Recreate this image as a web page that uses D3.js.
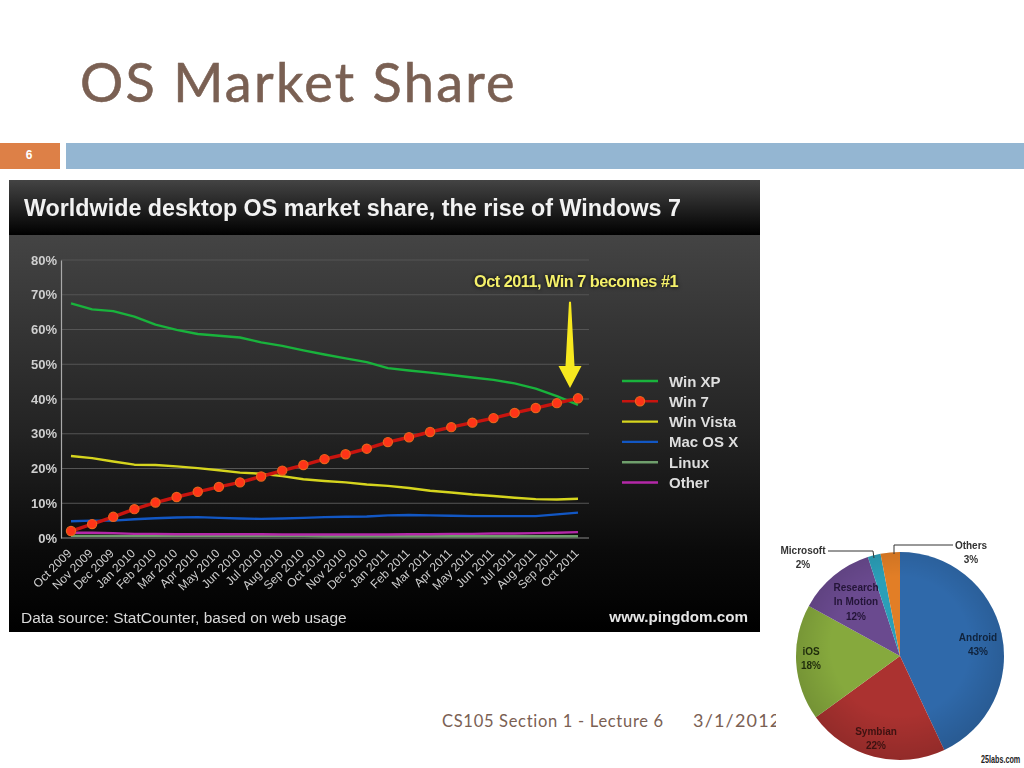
<!DOCTYPE html>
<html>
<head>
<meta charset="utf-8">
<script src="https://d3js.org/d3.v7.min.js"></script>
<style>
    html, body { margin: 0; padding: 0; background: #fff; }
    svg { display: block; }
    .hdr { font-family: "Liberation Sans", sans-serif; font-weight: bold; }
    .sans { font-family: "Liberation Sans", sans-serif; }
</style>
</head>
<body>
<div id="chart"></div>
<script>
    const months = ["Oct 2009","Nov 2009","Dec 2009","Jan 2010","Feb 2010","Mar 2010","Apr 2010","May 2010","Jun 2010","Jul 2010","Aug 2010","Sep 2010","Oct 2010","Nov 2010","Dec 2010","Jan 2011","Feb 2011","Mar 2011","Apr 2011","May 2011","Jun 2011","Jul 2011","Aug 2011","Sep 2011","Oct 2011"];
    const winXP = [67.5,65.8,65.3,63.7,61.4,59.9,58.7,58.2,57.7,56.3,55.3,54.0,52.8,51.7,50.6,48.9,48.2,47.6,46.9,46.2,45.5,44.5,43.0,40.8,38.3];
    const win7 = [2.0,4.0,6.1,8.3,10.2,11.8,13.3,14.7,16.0,17.7,19.4,21.0,22.7,24.1,25.7,27.6,29.0,30.5,31.9,33.2,34.5,36.0,37.4,38.8,40.2];
    const winVista = [23.6,23.0,22.0,21.1,21.0,20.6,20.1,19.5,18.8,18.5,17.8,16.9,16.4,16.0,15.4,15.0,14.4,13.6,13.1,12.5,12.1,11.6,11.2,11.1,11.3];
    const macOSX = [4.8,5.0,5.0,5.4,5.7,5.9,6.0,5.8,5.6,5.5,5.6,5.8,6.0,6.1,6.2,6.5,6.6,6.5,6.4,6.3,6.3,6.3,6.3,6.8,7.3];
    const linux = [0.6,0.6,0.6,0.6,0.6,0.6,0.6,0.6,0.6,0.6,0.6,0.6,0.5,0.5,0.5,0.5,0.5,0.5,0.5,0.5,0.5,0.5,0.5,0.5,0.5];
    const other = [1.5,1.5,1.4,1.2,1.2,1.1,1.1,1.1,1.1,1.1,1.0,1.0,1.0,1.0,1.0,1.0,1.1,1.1,1.2,1.2,1.3,1.3,1.4,1.5,1.7];
    const yTicks = [0,10,20,30,40,50,60,70,80];

    const seriesNames = ["Win XP","Win 7","Win Vista","Mac OS X","Linux","Other"];
    const seriesValues = [winXP, win7, winVista, macOSX, linux, other];
    const seriesColors = ["#19b33c","#c8140f","#d6d51e","#1257c4","#6f9f6c","#b428a8"];
    const drawOrder = [4,5,3,2,0,1];

    const pieNames = ["Android","Symbian","iOS","Research In Motion","Microsoft","Others"];
    const pieValues = [43,22,18,12,2,3];
    const pieColors = ["#2f69aa","#ab3230","#86a93d","#6a4a8f","#2b9fb8","#e27e26"];

    const svg = d3.select("#chart").append("svg").attr("width", 1024).attr("height", 768);
    const defs = svg.append("defs");

    function vgrad(id, stops) {
        const g = defs.append("linearGradient").attr("id", id).attr("x1", 0).attr("x2", 0).attr("y1", 0).attr("y2", 1);
        stops.forEach(function(s) {
            g.append("stop").attr("offset", s[0]).attr("stop-color", s[1]);
        });
    }
    vgrad("headGrad", [["0%", "#444"], ["100%", "#000"]]);
    vgrad("bodyGrad", [["0%", "#444"], ["50%", "#232323"], ["80%", "#0a0a0a"], ["100%", "#000"]]);
    defs.append("filter").attr("id", "soft").attr("color-interpolation-filters", "sRGB")
        .append("feGaussianBlur").attr("stdDeviation", 0.55);
    const glow = defs.append("filter").attr("id", "dark").attr("color-interpolation-filters", "sRGB")
        .attr("x", "-10%").attr("y", "-40%").attr("width", "120%").attr("height", "180%");
    glow.append("feDropShadow").attr("dx", 0).attr("dy", 0).attr("stdDeviation", 2).attr("flood-color", "#000");
    const shade = defs.append("radialGradient").attr("id", "pieShade").attr("gradientUnits", "userSpaceOnUse")
        .attr("cx", 0).attr("cy", -10).attr("r", 115);
    shade.append("stop").attr("offset", "60%").attr("stop-color", "#000").attr("stop-opacity", 0);
    shade.append("stop").attr("offset", "100%").attr("stop-color", "#000").attr("stop-opacity", 0.15);

    // slide furniture
    svg.append("text").attr("x", 80).attr("y", 102)
        .attr("font-family", "Lato, sans-serif").attr("font-size", 54).attr("letter-spacing", 2.3)
        .attr("stroke", "#7a6053").attr("stroke-width", 0.6)
        .attr("fill", "#7a6053").text("OS Market Share");
    svg.append("rect").attr("x", 0).attr("y", 143).attr("width", 60).attr("height", 26).attr("fill", "#dd8047");
    svg.append("rect").attr("x", 66).attr("y", 143).attr("width", 958).attr("height", 26).attr("fill", "#94b6d2");
    svg.append("text").attr("class", "hdr").attr("x", 29).attr("y", 159).attr("text-anchor", "middle")
        .attr("font-size", 12).attr("fill", "#fff").text("6");
    svg.append("text").attr("x", 442).attr("y", 727).attr("font-family", "Lato, sans-serif").attr("font-size", 16.5)
        .attr("letter-spacing", 0.7).attr("fill", "#7a6053").text("CS105 Section 1 - Lecture 6");
    svg.append("text").attr("x", 693).attr("y", 727).attr("font-family", "Lato, sans-serif").attr("font-size", 18)
        .attr("letter-spacing", 1.2).attr("fill", "#7a6053").text("3/1/2012");

    // screenshot panel
    const panel = svg.append("g").attr("filter", "url(#soft)");
    panel.append("rect").attr("x", 9).attr("y", 180).attr("width", 751).attr("height", 55).attr("fill", "url(#headGrad)");
    panel.append("rect").attr("x", 9).attr("y", 235).attr("width", 751).attr("height", 397).attr("fill", "url(#bodyGrad)");
    panel.append("text").attr("class", "hdr").attr("x", 24).attr("y", 216).attr("font-size", 23.3)
        .attr("fill", "#f2f2f2").text("Worldwide desktop OS market share, the rise of Windows 7");
    panel.append("text").attr("class", "sans").attr("x", 21).attr("y", 623).attr("font-size", 15.5)
        .attr("fill", "#d8d8d8").text("Data source: StatCounter, based on web usage");
    panel.append("text").attr("class", "hdr").attr("x", 748).attr("y", 622).attr("text-anchor", "end")
        .attr("font-size", 15.2).attr("fill", "#e6e6e6").text("www.pingdom.com");

    const x = d3.scalePoint().domain(months).range([71, 578]);
    const y = d3.scaleLinear().domain([0, 80]).range([538, 260]);

    // gridlines
    panel.append("g").selectAll("line").data(yTicks).enter().append("line")
        .attr("x1", 61).attr("x2", 589)
        .attr("y1", d => y(d)).attr("y2", d => y(d))
        .attr("stroke", d => d === 0 ? "#888" : "#555").attr("stroke-width", 1);

    const yAxis = panel.append("g").attr("transform", "translate(61,0)")
        .call(d3.axisLeft(y).tickValues(yTicks).tickSize(0).tickPadding(4).tickFormat(d => d + "%"));
    yAxis.select(".domain").attr("stroke", "#aaa").attr("stroke-width", 1.2);
    yAxis.selectAll("text").attr("class", "hdr").attr("font-size", 13).attr("fill", "#cfcfcf");

    const xAxis = panel.append("g").attr("transform", "translate(0,538)")
        .call(d3.axisBottom(x).tickSize(0));
    xAxis.select(".domain").remove();
    xAxis.selectAll("text").attr("class", "sans").attr("font-size", 12).attr("fill", "#cfcfcf")
        .attr("text-anchor", "end").attr("y", 0).attr("dy", 0)
        .attr("transform", "translate(1,16) rotate(-45)");

    // series lines
    const line = d3.line().x((d, i) => x(months[i])).y(d => y(d));
    drawOrder.forEach(function(s) {
        panel.append("path").datum(seriesValues[s])
            .attr("fill", "none").attr("stroke", seriesColors[s])
            .attr("stroke-width", s === 1 ? 3.4 : 2.4)
            .attr("stroke-linejoin", "round").attr("d", line);
    });
    panel.append("g").selectAll("circle").data(win7).enter().append("circle")
        .attr("cx", (d, i) => x(months[i])).attr("cy", d => y(d)).attr("r", 4.6)
        .attr("fill", "#ff3418").attr("stroke", "#e8641a").attr("stroke-width", 1.2);

    // legend
    const legend = panel.append("g").selectAll("g").data(seriesNames).enter().append("g")
        .attr("transform", (d, i) => "translate(0," + (381 + i * 20.3) + ")");
    legend.append("line").attr("x1", 622).attr("x2", 658)
        .attr("stroke", (d, i) => seriesColors[i]).attr("stroke-width", 2.4);
    legend.filter(d => d === "Win 7").append("circle").attr("cx", 640).attr("r", 4.6)
        .attr("fill", "#ff3418").attr("stroke", "#e8641a").attr("stroke-width", 1.2);
    legend.append("text").attr("class", "hdr").attr("x", 669).attr("y", 5.5).attr("font-size", 15)
        .attr("fill", "#dedede").text(d => d);

    // annotation
    panel.append("text").attr("class", "hdr").attr("x", 576).attr("y", 287).attr("text-anchor", "middle")
        .attr("font-size", 16.3).attr("letter-spacing", -0.5).attr("fill", "#f4f06a").attr("filter", "url(#dark)")
        .text("Oct 2011, Win 7 becomes #1");
    const tipX = x("Oct 2011") - 8;
    const arrow = d3.path();
    arrow.moveTo(tipX - 1, y(68));
    arrow.lineTo(tipX + 1, y(68));
    arrow.lineTo(tipX + 4.5, y(49.5));
    arrow.lineTo(tipX + 11.5, y(49.5));
    arrow.lineTo(tipX, y(43.2));
    arrow.lineTo(tipX - 11.5, y(49.5));
    arrow.lineTo(tipX - 4.5, y(49.5));
    arrow.closePath();
    panel.append("path").attr("d", arrow.toString()).attr("fill", "#f7e81f");

    // pie (white screenshot background covers the date)
    const pieCx = 900, pieCy = 656, pieR = 104;
    svg.append("rect").attr("x", 776).attr("y", 532).attr("width", 248).attr("height", 236).attr("fill", "#fff");
    const pieG = svg.append("g").attr("transform", "translate(" + pieCx + "," + pieCy + ")").attr("filter", "url(#soft)");
    const arcs = d3.pie().sort(null)(pieValues);
    const arc = d3.arc().innerRadius(0).outerRadius(pieR);
    pieG.selectAll("path.slice").data(arcs).enter().append("path").attr("class", "slice")
        .attr("d", arc).attr("fill", (d, i) => pieColors[i]);
    pieG.selectAll("path.shade").data(arcs).enter().append("path").attr("class", "shade")
        .attr("d", arc).attr("fill", "url(#pieShade)");

    const pieText = [
        { lines: ["Android", pieValues[0] + "%"], x: 978 - pieCx, y: 641 - pieCy, color: "#10233c" },
        { lines: ["Symbian", pieValues[1] + "%"], x: 876 - pieCx, y: 735 - pieCy, color: "#3d1211" },
        { lines: ["iOS", pieValues[2] + "%"], x: 811 - pieCx, y: 655 - pieCy, color: "#1f2c0c" },
        { lines: ["Research", "In Motion", pieValues[3] + "%"], x: 856 - pieCx, y: 591 - pieCy, color: "#241538" },
        { lines: ["Microsoft", pieValues[4] + "%"], x: 803 - pieCx, y: 554 - pieCy, color: "#333" },
        { lines: ["Others", pieValues[5] + "%"], x: 971 - pieCx, y: 549 - pieCy, color: "#333" }
    ];
    pieText.forEach(function(t) {
        const label = pieG.append("text").attr("class", "hdr").attr("font-size", 10).attr("fill", t.color)
            .attr("text-anchor", "middle");
        t.lines.forEach(function(s, i) {
            label.append("tspan").attr("x", t.x).attr("y", t.y + i * 14.3).text(s);
        });
    });
    const leader = d3.line();
    [[[828,551],[873,551],[874,558]], [[953,545],[894,545],[894,554]]].forEach(function(pts) {
        pieG.append("path").attr("d", leader(pts.map(p => [p[0] - pieCx, p[1] - pieCy])))
            .attr("fill", "none").attr("stroke", "#333").attr("stroke-width", 1);
    });
    svg.append("text").attr("class", "hdr").attr("transform", "translate(981,763) scale(0.72,1)")
        .attr("font-size", 10).attr("fill", "#222").text("25labs.com");
</script>
</body>
</html>
